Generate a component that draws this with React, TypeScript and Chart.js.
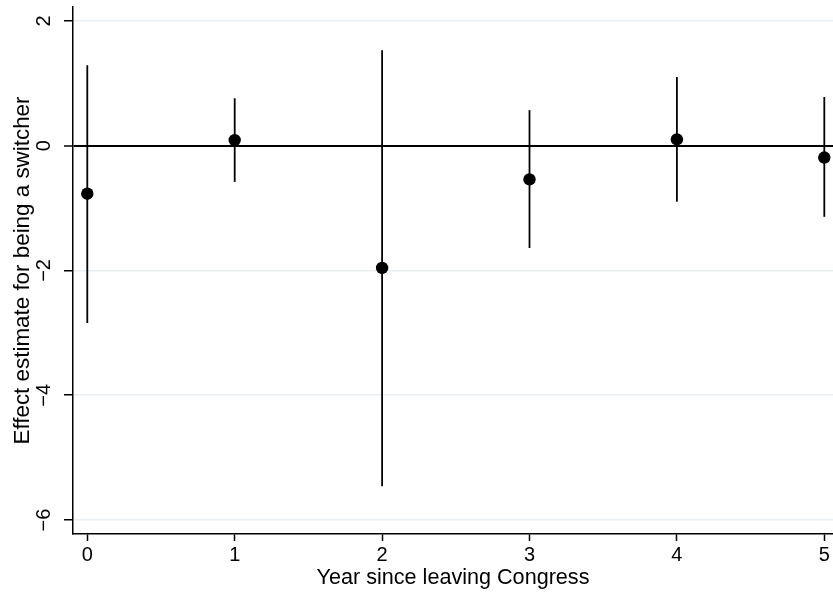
import React, { useEffect, useRef } from "react";
import { Chart, registerables } from "chart.js";

Chart.register(...registerables);

const years = [0, 1, 2, 3, 4, 5];
const estimates = [-0.77, 0.09, -1.96, -0.54, 0.1, -0.19];
const ciUpper = [1.29, 0.76, 1.53, 0.57, 1.1, 0.78];
const ciLower = [-2.84, -0.58, -5.46, -1.64, -0.9, -1.14];
const xTicks = [0, 1, 2, 3, 4, 5];
const yTicks = [-6, -4, -2, 0, 2];

const FONT = "'Liberation Sans', Arial, Helvetica, sans-serif";

export default function App() {
  const ref = useRef<HTMLCanvasElement | null>(null);

  useEffect(() => {
    if (!ref.current) return;
    const ciSets = years.map((x, i) => ({
      type: "line" as const,
      data: [
        { x, y: ciLower[i] },
        { x, y: ciUpper[i] },
      ],
      borderColor: "#000",
      borderWidth: 1.8,
      pointRadius: 0,
      showLine: true,
      fill: false,
    }));
    const chart = new Chart(ref.current, {
      type: "scatter",
      data: {
        datasets: [
          ...ciSets,
          {
            type: "scatter" as const,
            data: years.map((x, i) => ({ x, y: estimates[i] })),
            backgroundColor: "#000",
            borderColor: "#000",
            borderWidth: 0,
            pointRadius: 6.2,
          },
        ] as any,
      },
      options: {
        animation: false,
        responsive: false,
        events: [],
        layout: { autoPadding: false, padding: { top: 7, right: 0, bottom: 0, left: 0 } },
        plugins: { legend: { display: false }, tooltip: { enabled: false } },
        scales: {
          x: {
            type: "linear",
            min: -0.097,
            max: 5.059,
            afterBuildTicks: (s: any) => {
              s.ticks = xTicks.map((v) => ({ value: v }));
            },
            afterFit: (s: any) => {
              s.height = 61;
              s.paddingLeft = 0;
              s.paddingRight = 0;
              s.paddingTop = 0;
              s.paddingBottom = 0;
            },
            border: { display: true, color: "#000", width: 1.5 },
            grid: {
              drawOnChartArea: false,
              drawTicks: true,
              tickLength: 7,
              tickColor: "#000",
              tickWidth: 1.5,
            },
            ticks: {
              color: "#000",
              font: { family: FONT, size: 20 },
              padding: 2,
              maxRotation: 0,
              minRotation: 0,
              callback: (v: any) => String(v),
            },
            title: {
              display: true,
              text: "Year since leaving Congress",
              color: "#000",
              font: { family: FONT, size: 21.6 },
              padding: { top: 0, bottom: 3.5 },
            },
          },
          y: {
            type: "linear",
            min: -6.224,
            max: 2.223,
            afterBuildTicks: (s: any) => {
              s.ticks = yTicks.map((v) => ({ value: v }));
            },
            afterFit: (s: any) => {
              s.width = 73;
              s.paddingLeft = 0;
              s.paddingRight = 0;
              s.paddingTop = 0;
              s.paddingBottom = 0;
            },
            border: { display: true, color: "#000", width: 1.5 },
            grid: {
              drawOnChartArea: true,
              drawTicks: true,
              tickLength: 9,
              tickColor: "#000",
              tickWidth: 1.5,
              color: (c: any) => (c.tick && c.tick.value === 0 ? "#000" : "#e8eff2"),
              lineWidth: (c: any) => (c.tick && c.tick.value === 0 ? 2 : 1.5),
            },
            ticks: {
              color: "#000",
              font: { family: FONT, size: 20 },
              padding: 8.6,
              minRotation: 90,
              maxRotation: 90,
              crossAlign: "center",
              callback: (v: any) => (Number(v) < 0 ? "\u2212" + Math.abs(Number(v)) : String(v)),
            },
            title: {
              display: true,
              text: "Effect estimate for being a switcher",
              color: "#000",
              font: { family: FONT, size: 22.4 },
              padding: { top: 9, bottom: 0 },
            },
          },
        },
      },
    });
    return () => chart.destroy();
  }, []);

  return (
    <div style={{ position: "fixed", left: 0, top: 0, width: 833, height: 595, background: "#fff" }}>
      <canvas ref={ref} width={833} height={595} style={{ display: "block" }} />
    </div>
  );
}
